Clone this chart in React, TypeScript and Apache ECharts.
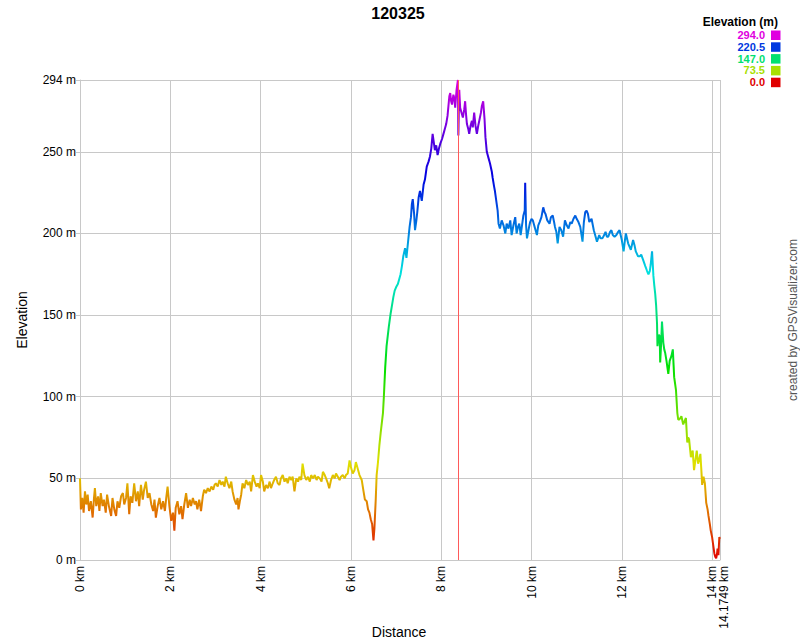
import React, { useEffect, useRef } from "react";
import * as echarts from "echarts";

const distanceKm: number[] = [
  0.0, 0.02, 0.05, 0.08, 0.11, 0.14, 0.17, 0.2, 0.24, 0.28, 0.31, 0.33, 0.36, 0.4, 0.43, 0.46, 0.5, 0.53, 0.57, 0.6,
  0.64, 0.69, 0.72, 0.76, 0.8, 0.83, 0.87, 0.91, 0.95, 0.98, 1.02, 1.05, 1.09, 1.12, 1.16, 1.2, 1.24, 1.28, 1.31, 1.35,
  1.39, 1.42, 1.46, 1.5, 1.54, 1.58, 1.62, 1.65, 1.68, 1.72, 1.76, 1.8, 1.84, 1.88, 1.91, 1.94, 1.98, 2.02, 2.06, 2.09,
  2.12, 2.16, 2.2, 2.24, 2.27, 2.31, 2.35, 2.39, 2.43, 2.46, 2.5, 2.54, 2.57, 2.6, 2.64, 2.68, 2.72, 2.75, 2.79, 2.83,
  2.87, 2.91, 2.95, 2.98, 3.01, 3.05, 3.09, 3.13, 3.16, 3.2, 3.23, 3.27, 3.31, 3.35, 3.38, 3.42, 3.46, 3.49, 3.51, 3.54,
  3.57, 3.6, 3.64, 3.68, 3.72, 3.76, 3.79, 3.83, 3.87, 3.91, 3.94, 3.98, 4.01, 4.05, 4.08, 4.12, 4.16, 4.2, 4.23, 4.27,
  4.3, 4.34, 4.38, 4.42, 4.45, 4.49, 4.53, 4.57, 4.6, 4.64, 4.68, 4.71, 4.75, 4.79, 4.83, 4.86, 4.9, 4.93, 4.97, 5.01,
  5.05, 5.09, 5.12, 5.16, 5.2, 5.24, 5.27, 5.31, 5.35, 5.38, 5.42, 5.45, 5.49, 5.52, 5.56, 5.6, 5.64, 5.67, 5.71, 5.75,
  5.78, 5.82, 5.86, 5.89, 5.93, 5.97, 6.0, 6.04, 6.08, 6.11, 6.15, 6.19, 6.24, 6.28, 6.31, 6.35, 6.38, 6.41, 6.44, 6.47,
  6.5, 6.52, 6.53, 6.55, 6.57, 6.6, 6.63, 6.66, 6.71, 6.73, 6.76, 6.79, 6.84, 6.88, 6.91, 6.94, 6.97, 7.0, 7.04, 7.07,
  7.1, 7.13, 7.16, 7.2, 7.23, 7.27, 7.3, 7.33, 7.35, 7.37, 7.4, 7.42, 7.45, 7.47, 7.5, 7.53, 7.57, 7.61, 7.64, 7.68,
  7.72, 7.75, 7.78, 7.81, 7.84, 7.86, 7.89, 7.92, 7.95, 7.98, 8.02, 8.05, 8.08, 8.11, 8.14, 8.16, 8.18, 8.2, 8.22, 8.24,
  8.27, 8.29, 8.31, 8.34, 8.37, 8.38, 8.4, 8.42, 8.45, 8.48, 8.51, 8.53, 8.55, 8.57, 8.6, 8.62, 8.65, 8.68, 8.7, 8.73,
  8.76, 8.79, 8.82, 8.85, 8.88, 8.9, 8.93, 8.96, 8.98, 9.01, 9.05, 9.08, 9.12, 9.14, 9.17, 9.19, 9.23, 9.25, 9.27, 9.3,
  9.34, 9.38, 9.42, 9.45, 9.49, 9.53, 9.56, 9.6, 9.64, 9.67, 9.7, 9.73, 9.76, 9.79, 9.82, 9.85, 9.86, 9.88, 9.9, 9.94,
  9.97, 10.0, 10.03, 10.07, 10.1, 10.12, 10.15, 10.18, 10.22, 10.26, 10.29, 10.31, 10.35, 10.4, 10.43, 10.47, 10.5, 10.52, 10.55, 10.58,
  10.62, 10.66, 10.7, 10.74, 10.78, 10.82, 10.86, 10.89, 10.93, 10.97, 11.0, 11.04, 11.08, 11.13, 11.16, 11.19, 11.22, 11.25, 11.28, 11.33,
  11.38, 11.42, 11.45, 11.5, 11.53, 11.57, 11.61, 11.64, 11.67, 11.7, 11.74, 11.77, 11.8, 11.84, 11.88, 11.92, 11.95, 12.0, 12.04, 12.07,
  12.09, 12.14, 12.17, 12.2, 12.25, 12.28, 12.31, 12.36, 12.4, 12.43, 12.47, 12.52, 12.56, 12.59, 12.62, 12.64, 12.67, 12.7, 12.72, 12.74,
  12.76, 12.78, 12.79, 12.82, 12.84, 12.85, 12.87, 12.89, 12.92, 12.94, 12.96, 12.99, 13.03, 13.06, 13.1, 13.13, 13.16, 13.18, 13.2, 13.23,
  13.25, 13.27, 13.3, 13.32, 13.36, 13.39, 13.42, 13.45, 13.47, 13.49, 13.53, 13.55, 13.57, 13.6, 13.63, 13.66, 13.69, 13.72, 13.74, 13.76,
  13.78, 13.81, 13.84, 13.87, 13.9, 13.92, 13.95, 13.97, 14.0, 14.02, 14.05, 14.07, 14.09, 14.11, 14.12, 14.14, 14.16, 14.1749,
];

const elevationM: number[] = [
  50, 31, 38, 29, 42, 34, 40, 30, 36, 26, 38, 44, 33, 39, 30, 41, 33, 37, 29, 40,
  33, 27, 38, 31, 27, 36, 32, 39, 41, 34, 38, 47, 28, 39, 35, 47, 36, 42, 33, 46,
  37, 43, 48, 38, 41, 34, 30, 37, 26, 33, 38, 31, 36, 30, 38, 45, 33, 24, 29, 18,
  32, 36, 28, 33, 25, 34, 41, 32, 37, 33, 38, 34, 36, 31, 37, 30, 39, 43, 41, 44,
  42, 45, 43, 46, 47, 45, 49, 46, 48, 45, 51, 47, 44, 48, 42, 37, 34, 38, 31, 36,
  40, 47, 44, 49, 46, 48, 42, 52, 48, 45, 47, 44, 52, 48, 42, 46, 44, 48, 44, 47,
  49, 51, 47, 46, 50, 52, 48, 50, 47, 51, 49, 51, 42, 50, 48, 51, 49, 59, 52, 49,
  51, 48, 52, 50, 52, 49, 51, 50, 48, 54, 52, 50, 47, 44, 49, 52, 50, 53, 51, 49,
  51, 52, 50, 52, 53, 61, 57, 53, 55, 60, 56, 52, 49, 42, 37, 36, 31, 29, 25, 22,
  12, 19, 25, 37, 52, 60, 70, 78, 90, 100, 118, 131, 143, 151, 156, 161, 165, 167, 169, 172,
  175, 180, 186, 191, 185, 196, 204, 210, 218, 221, 212, 202, 208, 213, 222, 226, 220, 230, 233, 241,
  244, 247, 252, 261, 255, 251, 254, 248, 252, 255, 258, 261, 264, 267, 272, 278, 284, 286, 281, 279,
  285, 283, 277, 288, 294, 260, 288, 277, 274, 271, 276, 281, 273, 267, 264, 261, 266, 269, 265, 274,
  266, 261, 266, 270, 274, 278, 281, 270, 259, 250, 246, 243, 238, 234, 229, 226, 218, 214, 206, 203,
  208, 205, 200, 206, 203, 208, 199, 205, 210, 200, 204, 206, 199, 205, 211, 214, 231, 205, 197, 203,
  207, 209, 208, 204, 201, 199, 205, 207, 210, 216, 213, 212, 208, 206, 210, 211, 207, 204, 201, 194,
  204, 202, 198, 208, 205, 203, 207, 206, 209, 211, 209, 207, 204, 195, 207, 213, 214, 212, 207, 209,
  202, 198, 195, 199, 197, 197, 199, 201, 198, 198, 201, 202, 199, 198, 199, 201, 202, 196, 189, 196,
  200, 194, 192, 190, 196, 193, 189, 186, 186, 187, 184, 180, 177, 175, 177, 181, 189, 174, 168, 163,
  156, 145, 131, 138, 137, 121, 132, 146, 133, 129, 127, 122, 114, 122, 125, 129, 112, 108, 104, 90,
  86, 86, 87, 88, 83, 85, 87, 72, 75, 74, 63, 65, 67, 55, 61, 67, 59, 62, 65, 56,
  46, 51, 47, 35, 31, 27, 22, 18, 14, 10, 4, 2, 1, 4, 7, 3, 14, 13,
];

const totalKm = 14.1749;
const maxElevation = 294;
const peakDistanceKm = 8.375;
const legendValues: number[] = [294.0, 220.5, 147.0, 73.5, 0.0];
const legendColors: string[] = ["#e000e0", "#0038e0", "#00e070", "#a8e000", "#e00000"];
const hueRamp: string[] = [
  "#e00000", "#e07000", "#e0e000", "#70e000", "#00e000", "#00e070",
  "#00e0e0", "#0070e0", "#0000e0", "#7000e0", "#e000e0",
];

const FONT = "'Liberation Sans', Arial, sans-serif";

export default function App() {
  const ref = useRef<HTMLDivElement>(null);
  useEffect(() => {
    if (!ref.current) return;
    const chart = echarts.init(ref.current, null, { renderer: "svg" });
    const data = distanceKm.map((d, i) => [d, elevationM[i]]);

    const legendGraphics: any[] = [
      {
        type: "text",
        x: 778,
        y: 22,
        style: {
          text: "Elevation (m)",
          font: `bold 12px ${FONT}`,
          fill: "#000",
          textAlign: "right",
          textVerticalAlign: "middle",
        },
      },
    ];
    legendValues.forEach((v, i) => {
      const cy = 35 + i * 11.8;
      legendGraphics.push({
        type: "text",
        x: 765,
        y: cy,
        style: {
          text: v.toFixed(1),
          font: `bold 11px ${FONT}`,
          lineHeight: 11,
          fill: legendColors[i],
          textAlign: "right",
          textVerticalAlign: "middle",
        },
      });
      legendGraphics.push({
        type: "rect",
        shape: { x: 771, y: cy - 4.5, width: 9.5, height: 9.5 },
        style: { fill: legendColors[i] },
      });
    });

    const labelCommon = {
      rotate: 90,
      margin: 6,
      color: "#000",
      fontSize: 12,
      fontFamily: FONT,
      hideOverlap: false,
    };

    chart.setOption({
      animation: false,
      backgroundColor: "#fff",
      textStyle: { fontFamily: FONT },
      grid: { left: 80, right: 80, top: 80, bottom: 80, containLabel: false },
      xAxis: [
        {
          type: "value",
          min: 0,
          max: totalKm,
          interval: 2,
          axisLine: { show: true, lineStyle: { color: "#c8c8c8" } },
          axisTick: { show: false },
          splitLine: { show: true, lineStyle: { color: "#c8c8c8", width: 1 } },
          axisLabel: {
            ...labelCommon,
            lineHeight: 10,
            showMaxLabel: false,
            showMinLabel: true,
            formatter: (v: number) => (v > 14.05 ? "" : `${v} km`),
          },
        },
        {
          type: "value",
          position: "bottom",
          min: 0,
          max: totalKm,
          interval: totalKm,
          axisLine: { show: false },
          axisTick: { show: false },
          splitLine: { show: false },
          axisLabel: {
            ...labelCommon,
            lineHeight: 8,
            verticalAlign: "top",
            showMaxLabel: true,
            showMinLabel: false,
            formatter: (v: number) => (v > 14.05 ? `${totalKm} km` : ""),
          },
        },
      ],
      yAxis: {
        type: "value",
        min: 0,
        max: maxElevation,
        interval: 50,
        axisLine: { show: true, lineStyle: { color: "#c8c8c8" } },
        axisTick: { show: true, length: 4, lineStyle: { color: "#c8c8c8" } },
        splitLine: { show: true, lineStyle: { color: "#c8c8c8", width: 1 } },
        axisLabel: {
          margin: 4,
          color: "#000",
          fontSize: 12,
          fontFamily: FONT,
          showMaxLabel: true,
          formatter: (v: number) => `${v} m`,
        },
      },
      visualMap: {
        type: "continuous",
        show: false,
        min: 0,
        max: maxElevation,
        dimension: 1,
        seriesIndex: 0,
        inRange: { color: hueRamp },
      },
      series: [
        {
          type: "line",
          xAxisIndex: 0,
          data,
          showSymbol: false,
          symbol: "none",
          lineStyle: { width: 2 },
          markLine: {
            silent: true,
            symbol: ["none", "none"],
            label: { show: false },
            lineStyle: { color: "#ff5a5a", width: 1, type: "solid" },
            data: [{ xAxis: peakDistanceKm }],
          },
          z: 3,
        },
      ],
      graphic: [
        {
          type: "text",
          x: 398,
          y: 13,
          style: {
            text: "120325",
            font: `bold 16px ${FONT}`,
            fill: "#000",
            textAlign: "center",
            textVerticalAlign: "middle",
          },
        },
        {
          type: "text",
          x: 22,
          y: 320,
          rotation: Math.PI / 2,
          style: {
            text: "Elevation",
            font: `14px ${FONT}`,
            fill: "#000",
            textAlign: "center",
            textVerticalAlign: "middle",
          },
        },
        {
          type: "text",
          x: 399,
          y: 632,
          style: {
            text: "Distance",
            font: `14px ${FONT}`,
            fill: "#000",
            textAlign: "center",
            textVerticalAlign: "middle",
          },
        },
        {
          type: "text",
          x: 793,
          y: 320,
          rotation: Math.PI / 2,
          style: {
            text: "created by GPSVisualizer.com",
            font: `12px ${FONT}`,
            fill: "#555",
            textAlign: "center",
            textVerticalAlign: "middle",
          },
        },
        ...legendGraphics,
      ],
    });
    return () => chart.dispose();
  }, []);
  return (
    <div
      ref={ref}
      style={{ position: "fixed", left: 0, top: 0, width: 800, height: 640 }}
    />
  );
}
